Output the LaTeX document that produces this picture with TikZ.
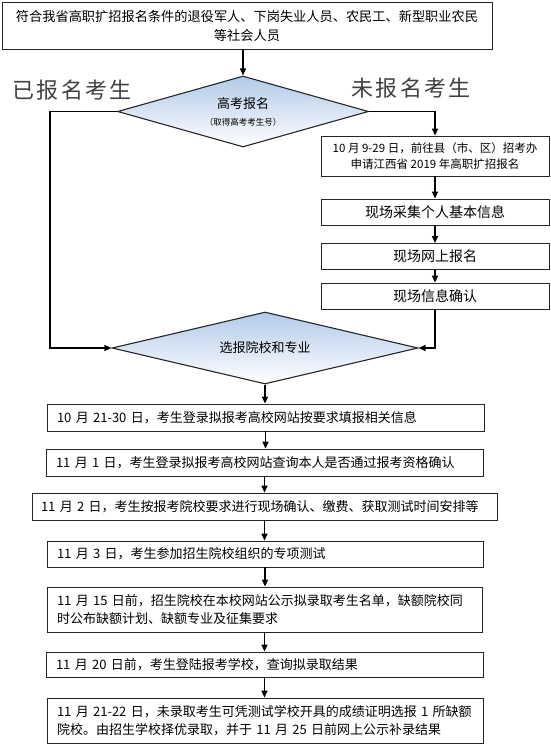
\documentclass[tikz,border=0pt]{standalone}
\usepackage{fontspec}
\setmainfont{Noto Sans CJK SC}
\usetikzlibrary{shapes.geometric,arrows.meta}
\definecolor{shadeblue}{RGB}{178,202,232}
\begin{document}
\begin{tikzpicture}[x=1pt,y=-1pt,
    box/.style={draw=black!85,line width=0.8pt,inner sep=0pt,align=center},
    stepbox/.style={box,inner xsep=10pt,align=left,font=\fontsize{13}{18}\selectfont},
    choice/.style={diamond,aspect=3.8,draw=black!85,line width=1.1pt,inner sep=0pt,align=center,
        top color=shadeblue,bottom color=white},
    arr/.style={line width=1.4pt,-{Triangle[length=7pt,width=6pt]}},
    side/.style={font=\fontsize{22}{22}\selectfont\addfontfeature{LetterSpace=10},text=black!75}]
    \useasboundingbox (0,0) rectangle (551,744);
    % top of the chart
    \node[box,minimum width=490,minimum height=47,font=\fontsize{13.2}{19}\selectfont] (start) at (247,25.5)
        {符合我省高职扩招报名条件的退役军人、下岗失业人员、农民工、新型职业农民\\等社会人员};
    \node[choice,minimum width=251,minimum height=71,font=\fontsize{13}{16}\selectfont] (reg) at (243,111.5)
        {高考报名\\[1pt]{\fontsize{8.5}{10}\selectfont （取得高考考生号）}};
    \node[side] (done) at (72,90) {已报名考生};
    \node[side] (todo) at (411,88) {未报名考生};
    % right branch
    \node[box,minimum width=228,minimum height=40,font=\fontsize{11.5}{16}\selectfont] (apply) at (435,156)
        {10 月 9-29 日，前往县（市、区）招考办\\申请江西省 2019 年高职扩招报名};
    \node[box,minimum width=228,minimum height=26,font=\fontsize{14}{16}\selectfont] (collect) at (435,212) {现场采集个人基本信息};
    \node[box,minimum width=228,minimum height=26,font=\fontsize{14}{16}\selectfont] (online) at (435,256.5) {现场网上报名};
    \node[box,minimum width=228,minimum height=26,font=\fontsize{14}{16}\selectfont] (confirm) at (435,296) {现场信息确认};
    \coordinate (lturn) at (50,111.5);
    \node[choice,minimum width=306,minimum height=72,font=\fontsize{13}{16}\selectfont] (pick) at (265,348) {选报院校和专业};
    % steps after choosing
    \node[stepbox,text width=417,minimum height=27] (fill) at (265.5,417.5)
        {10 月 21-30 日，考生登录拟报考高校网站按要求填报相关信息};
    \node[stepbox,text width=417,minimum height=27] (check) at (264.5,462.5)
        {11 月 1 日，考生登录拟报考高校网站查询本人是否通过报考资格确认};
    \node[stepbox,inner xsep=9pt,text width=447,minimum height=27] (pay) at (264.5,506.5)
        {11 月 2 日，考生按报考院校要求进行现场确认、缴费、获取测试时间安排等};
    \node[stepbox,text width=416,minimum height=26] (test) at (265,554)
        {11 月 3 日，考生参加招生院校组织的专项测试};
    \node[stepbox,text width=415,minimum height=45] (list) at (264.5,609.5)
        {11 月 15 日前，招生院校在本校网站公示拟录取考生名单，缺额院校同\\时公布缺额计划、缺额专业及征集要求};
    \node[stepbox,text width=417,minimum height=25] (query) at (264.5,664.5)
        {11 月 20 日前，考生登陆报考学校，查询拟录取结果};
    \node[stepbox,text width=416,minimum height=45] (extra) at (265,720.5)
        {11 月 21-22 日，未录取考生可凭测试学校开具的成绩证明选报 1 所缺额\\院校。由招生学校择优录取，并于 11 月 25 日前网上公示补录结果};
    % connectors
    \draw[arr] (start.south -| reg.north) -- (reg.north);
    \draw[arr] (reg.west) -- (lturn) |- (pick.west);
    \draw[arr] (reg.east) -| (apply.north);
    \foreach \a/\b in {apply/collect,collect/online,online/confirm}
        \draw[arr] (\a.south) -- (\b.north);
    \draw[arr] (confirm.south) |- (pick.east);
    \draw[arr] (pick.south) -- (pick.south |- fill.north);
    \foreach \a/\b in {fill/check,check/pay,pay/test,test/list,list/query,query/extra}
        \draw[arr] (\a.south) -- (\a.south |- \b.north);
\end{tikzpicture}
\end{document}
